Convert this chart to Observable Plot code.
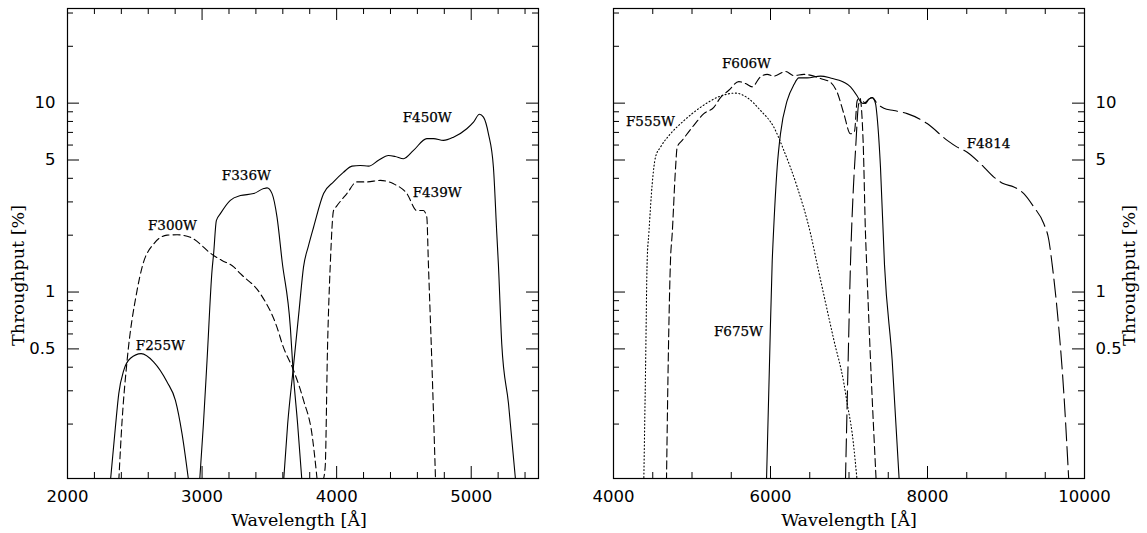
<!DOCTYPE html>
<html><head><meta charset="utf-8">
<script src="https://cdn.jsdelivr.net/npm/d3@7"></script>
<script src="https://cdn.jsdelivr.net/npm/@observablehq/plot@0.6"></script>
<style>
body{margin:0;background:#fff;}
#wrap{position:relative;width:1147px;height:533px;overflow:hidden;}
#wrap svg{position:absolute;top:0;}
</style></head><body><div id="wrap"></div>
<script>
// ---- data: [wavelength (Å), throughput (%)] ----
const F255W = [[2319,0.1],[2356,0.193],[2381,0.29],[2418,0.385],[2468,0.446],[2547,0.472],[2641,0.426],[2740,0.334],[2802,0.267],[2851,0.178],[2900,0.1]];
const F300W = [[2381,0.1],[2406,0.21],[2443,0.435],[2517,1.02],[2555,1.36],[2641,1.80],[2740,2.0],[2814,2.01],[2913,1.95],[3086,1.56],[3148,1.47],[3235,1.36],[3285,1.25],[3433,0.98],[3557,0.65],[3600,0.52],[3680,0.385],[3754,0.267],[3816,0.178],[3856,0.1]];
const F336W = [[2982,0.1],[3010,0.2],[3037,0.435],[3074,1.30],[3086,1.6],[3106,2.39],[3136,2.6],[3210,3.06],[3285,3.24],[3383,3.32],[3458,3.53],[3483,3.56],[3520,3.32],[3557,2.49],[3595,1.45],[3656,0.65],[3676,0.385],[3710,0.2],[3742,0.1]];
const F439W = [[3898,0.1],[3915,0.119],[3932,0.5],[3953,1.41],[3977,2.70],[4000,2.85],[4076,3.32],[4150,3.83],[4225,3.83],[4324,3.9],[4423,3.74],[4522,3.32],[4596,2.70],[4645,2.7],[4670,2.49],[4682,1.4],[4707,0.435],[4735,0.1]];
const F450W = [[3606,0.1],[3636,0.2],[3676,0.385],[3721,0.8],[3754,1.36],[3790,1.75],[3829,2.21],[3903,3.32],[3977,3.83],[4050,4.3],[4114,4.64],[4175,4.68],[4237,4.64],[4311,4.98],[4385,5.28],[4435,5.22],[4497,5.08],[4571,5.62],[4670,6.49],[4720,6.49],[4794,6.35],[4868,6.6],[4967,7.32],[5017,7.93],[5061,8.73],[5091,8.43],[5128,6.88],[5165,4.58],[5190,2.04],[5202,1.4],[5227,0.53],[5277,0.257],[5330,0.1]];
const F555W = [[4386,0.1],[4408,0.385],[4429,1.47],[4450,2.04],[4493,3.74],[4535,5.18],[4599,5.85],[4726,6.88],[4896,8.07],[5108,9.5],[5363,10.9],[5554,11.3],[5703,10.7],[5873,9.14],[6042,7.47],[6170,5.62],[6340,3.6],[6510,2.04],[6595,1.4],[6806,0.56],[6934,0.33],[6977,0.257],[7041,0.178],[7104,0.1]];
const F606W = [[4675,0.1],[4700,0.5],[4726,1.47],[4748,2.04],[4790,4.5],[4811,5.85],[4875,6.35],[5023,7.63],[5151,8.8],[5278,9.5],[5363,10.7],[5469,11.7],[5596,13.0],[5682,12.7],[5767,12.2],[5873,13.8],[5958,14.2],[6042,13.9],[6191,14.7],[6297,14.0],[6424,14.2],[6552,13.9],[6637,13.5],[6764,12.9],[6850,11.4],[6934,8.8],[7019,6.88],[7070,7.1],[7104,10.3],[7138,10.7],[7181,6.1],[7210,2.04],[7223,1.47],[7274,0.435],[7346,0.1]];
const F675W = [[5949,0.1],[5986,0.4],[6022,1.47],[6034,1.9],[6085,4.58],[6127,6.88],[6212,10.3],[6297,12.5],[6361,13.6],[6467,13.6],[6637,13.9],[6764,13.6],[6934,12.9],[7019,12.2],[7104,10.9],[7146,10.2],[7189,9.95],[7253,10.5],[7296,10.7],[7338,9.95],[7359,8.4],[7401,4.58],[7452,1.4],[7550,0.435],[7640,0.1]];
const F4814 = [[6955,0.1],[6990,0.45],[7019,1.42],[7055,3.5],[7083,5.62],[7125,9.95],[7168,10.3],[7210,9.95],[7253,10.5],[7296,10.7],[7359,9.95],[7444,9.4],[7571,9.14],[7741,8.8],[7996,7.8],[8251,6.35],[8378,5.85],[8506,5.5],[8675,4.78],[8845,4.06],[8972,3.74],[9100,3.6],[9227,3.32],[9354,2.82],[9482,2.30],[9546,1.88],[9588,1.4],[9652,0.80],[9737,0.29],[9800,0.1]];

// curve labels: [text, wavelength, throughput]
const leftLabels = [["F255W",2690,0.52],["F300W",2780,2.25],["F336W",3329,4.14],["F450W",4673,8.4],["F439W",4747,3.37]];
const rightLabels = [["F606W",5694,16.2],["F555W",4471,8.0],["F675W",5592,0.62],["F4814",8777,6.12]];

// ticks
const leftMajorX = [2000,3000,4000,5000];
const leftMinorX = [2200,2400,2600,2800,3200,3400,3600,3800,4200,4400,4600,4800,5200,5400];
const rightMajorX = [4000,6000,8000,10000];
const rightMinorX = [4500,5000,5500,6500,7000,7500,8500,9000,9500];
const yMajor = [0.5,1,5,10];
const yMinor = [0.2,0.3,0.4,0.6,0.7,0.8,0.9,2,3,4,6,7,8,9,20,30];
const yDomain = [0.103, 31.7];
const xTitle = "Wavelength [Å]";
const yTitle = "Throughput [%]";

function panel({width, ml, mr, xDomain, xMajor, xMinor, curves, labels, side, titleDx, xTitleDx}) {
  const mt = 8, mb = 55, H = 533;
  const fw = width - ml - mr, fh = H - mt - mb;
  const maj = 12, mnr = 6;
  const marks = [];
  for (const [vals, len] of [[xMajor, maj], [xMinor, mnr]]) {
    marks.push(Plot.ruleX(vals, {x: d => d, insetTop: fh - len, stroke: "#000", strokeWidth: 1}));
    marks.push(Plot.ruleX(vals, {x: d => d, insetBottom: fh - len, stroke: "#000", strokeWidth: 1}));
  }
  for (const [vals, len] of [[yMajor, maj], [yMinor, mnr]]) {
    marks.push(Plot.ruleY(vals, {y: d => d, insetRight: fw - len, stroke: "#000", strokeWidth: 1}));
    marks.push(Plot.ruleY(vals, {y: d => d, insetLeft: fw - len, stroke: "#000", strokeWidth: 1}));
  }
  for (const c of curves) {
    marks.push(Plot.line(c.data, {x: d => d[0], y: d => d[1], curve: "monotone-x", clip: true,
      stroke: "#000", strokeWidth: 1.1, strokeDasharray: c.dash || null}));
  }
  marks.push(Plot.frame({stroke: "#000", strokeWidth: 1.2}));
  marks.push(Plot.axisX({ticks: xMajor, tickSize: 0, tickPadding: 12, label: null, tickFormat: d => String(d),
    fontFamily: "DejaVu Sans", fontSize: 16.5}));
  marks.push(Plot.axisY({ticks: yMajor, anchor: side, tickSize: 0, tickPadding: side === "left" ? 12 : 11, label: null,
    tickFormat: d => String(d), fontFamily: "DejaVu Sans", fontSize: 16.5}));
  marks.push(Plot.text(labels, {x: d => d[1], y: d => d[2], text: d => d[0], textAnchor: "middle", lineAnchor: "middle",
    fontFamily: "DejaVu Serif", fontSize: 13.5, fill: "#000", stroke: "#000", strokeWidth: 0.25}));
  marks.push(Plot.text([xTitle], {frameAnchor: "bottom", dy: 42, dx: xTitleDx, text: d => d, lineAnchor: "middle",
    fontFamily: "DejaVu Serif", fontSize: 17.5, fill: "#000"}));
  marks.push(Plot.text([yTitle], {frameAnchor: side, dx: titleDx, dy: 32, rotate: -90, text: d => d, lineAnchor: "middle",
    textAnchor: "middle", fontFamily: "DejaVu Serif", fontSize: 17.5, fill: "#000"}));
  return Plot.plot({
    width, height: H, marginLeft: ml, marginRight: mr, marginTop: mt, marginBottom: mb,
    x: {domain: xDomain, axis: null},
    y: {type: "log", domain: yDomain, axis: null},
    style: {fontFamily: "DejaVu Sans", background: "#fff", color: "#000", overflow: "visible"},
    marks
  });
}

const left = panel({
  width: 573, ml: 67, mr: 35, xDomain: [2000, 5500], xMajor: leftMajorX, xMinor: leftMinorX,
  curves: [
    {data: F255W}, {data: F300W, dash: "7,4"}, {data: F336W}, {data: F439W, dash: "7,4"}, {data: F450W}
  ],
  labels: leftLabels, side: "left", titleDx: -49.5, xTitleDx: -4
});
const right = panel({
  width: 574, ml: 40, mr: 63, xDomain: [4000, 10000], xMajor: rightMajorX, xMinor: rightMinorX,
  curves: [
    {data: F555W, dash: "1,2.5"}, {data: F606W, dash: "8,4"}, {data: F675W}, {data: F4814, dash: "18,6"}
  ],
  labels: rightLabels, side: "right", titleDx: 45, xTitleDx: 0
});
left.style.left = "0px";
right.style.left = "573px";
document.getElementById("wrap").append(left, right);
</script></body></html>
